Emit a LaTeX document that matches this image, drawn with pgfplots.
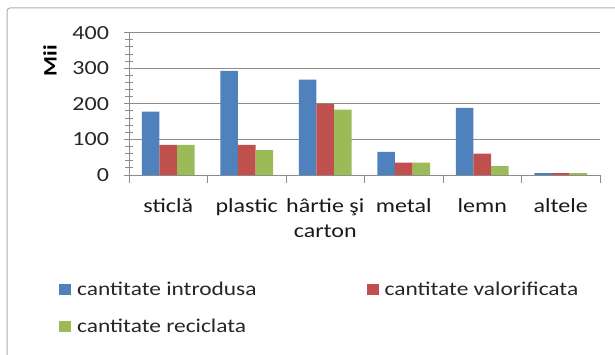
\documentclass[border=0pt]{standalone}
\usepackage{fontspec}
\setmainfont{Carlito}[FakeStretch=1.2]
\usepackage{pgfplots}
\pgfplotsset{compat=1.18}
\definecolor{exblue}{HTML}{4F81BD}
\definecolor{exred}{HTML}{C0504D}
\definecolor{exgreen}{HTML}{9BBB59}
\definecolor{exgrid}{HTML}{8C8C8C}
\begin{document}
\begin{tikzpicture}
\path[use as bounding box] (0,0) rectangle (615bp,355bp);
\draw[exgrid!70, line width=1bp, rounded corners=3bp] (7bp,0bp) |- (615bp,347bp);
\begin{axis}[
  at={(129bp,180bp)}, anchor=south west,
  width=471bp, height=142.3bp, scale only axis,
  ybar=0pt, bar width=17.6bp,
  xmin=-0.5, xmax=5.5, ymin=0, ymax=400,
  axis lines*=left,
  axis line style={exgrid, line width=1bp},
  xtick={0,1,2,3,4,5},
  xticklabels={sticlă, plastic, {hârtie şi\\carton}, metal, lemn, altele},
  minor xtick={-0.5,0.5,1.5,2.5,3.5,4.5,5.5},
  ytick={0,100,200,300,400},
  minor ytick={20,40,60,80,120,140,160,180,220,240,260,280,320,340,360,380},
  xtick align=outside, ytick align=center,
  major x tick style={draw=none},
  minor x tick style={exgrid, line width=1bp},
  major y tick style={exgrid, line width=1bp},
  minor y tick style={exgrid, line width=1bp},
  major tick length=11bp, minor tick length=8bp,
  ymajorgrids, major grid style={exgrid, line width=1bp},
  /pgf/number format/assume math mode=true,
  yticklabel style={font=\fontsize{20bp}{22bp}\selectfont, text=black!85, xshift=-11bp},
  xticklabel style={font=\fontsize{20bp}{25bp}\selectfont, align=center, anchor=north, yshift=-9bp, text=black!90},
  ylabel={\textbf{Mii}},
  ylabel style={at={(axis description cs:-0.168,0.805)}, rotate=0, anchor=center, font=\fontsize{19bp}{21bp}\selectfont},
  legend columns=2,
  legend cell align=left,
  legend style={draw=none, fill=none, at={(axis description cs:-0.1486,-0.735)}, anchor=north west,
    inner sep=0pt, font=\fontsize{19.5bp}{23bp}\selectfont, row sep=18bp, text=black!85,
    /tikz/every odd column/.append style={column sep=4bp},
    /tikz/every even column/.append style={column sep=108bp}},
  legend image code/.code={\fill[#1] (0bp,-5.5bp) rectangle (12bp,5.5bp);},
  clip=false,
]
\addplot[fill=exblue, draw=none] coordinates {(0,178) (1,293) (2,268) (3,65) (4,189) (5,5)};
\addplot[fill=exred, draw=none] coordinates {(0,85) (1,85) (2,200) (3,35) (4,60) (5,5)};
\addplot[fill=exgreen, draw=none] coordinates {(0,85) (1,70) (2,184) (3,35) (4,25) (5,5)};
\legend{cantitate introdusa, cantitate valorificata, cantitate reciclata}
\end{axis}
\end{tikzpicture}
\end{document}
